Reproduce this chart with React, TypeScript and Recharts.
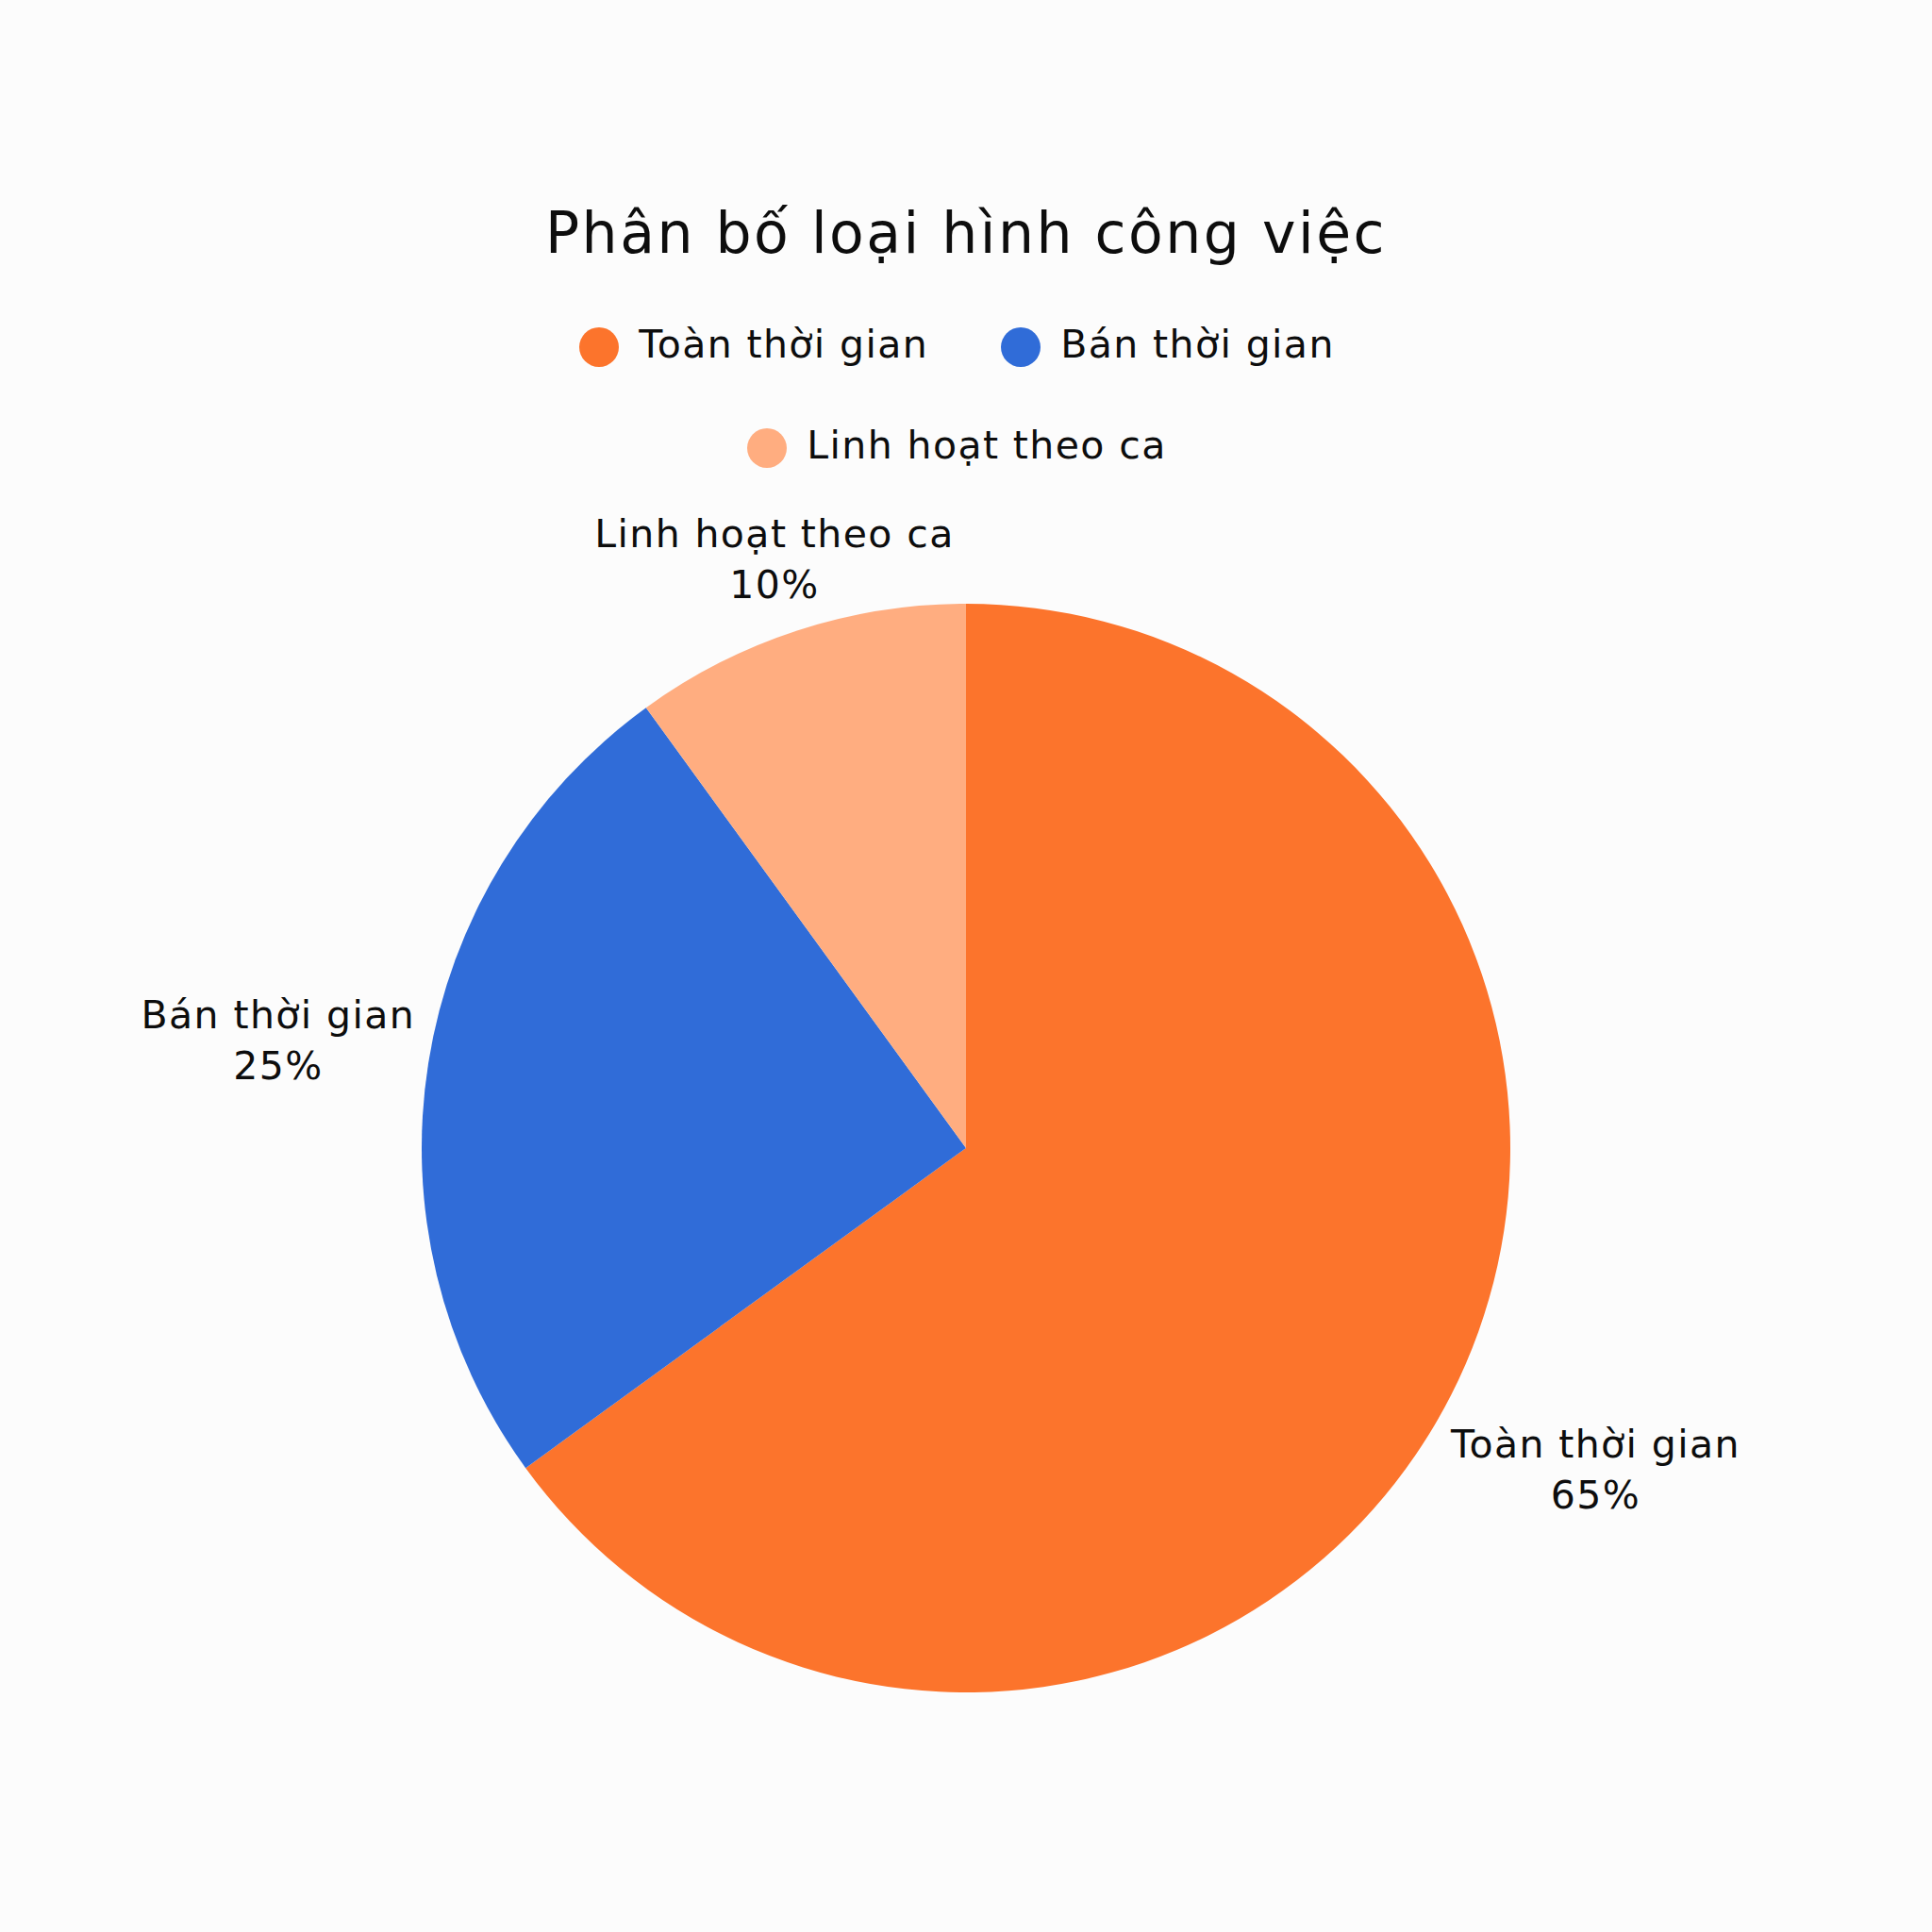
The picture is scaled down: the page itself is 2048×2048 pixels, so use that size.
import React from 'react';
import { PieChart, Pie, Cell, Legend } from 'recharts';

const TITLE = 'Phân bố loại hình công việc';
const categories = ['Toàn thời gian', 'Bán thời gian', 'Linh hoạt theo ca'];
const shares = [65, 25, 10];
const colors = ['#FC742C', '#306CD8', '#FFAD80'];

const data = categories.map((name, i) => ({ name, value: shares[i] }));

const FONT = '"DejaVu Sans", sans-serif';
const TEXT = '#0d0d0d';
const LABEL_SIZE = 41;
const LABEL_SPACING = 1.4;
const LEGEND_H = 520;
const RAD = Math.PI / 180;

const renderLegend = () => (
  <div style={{ position: 'relative', width: 2048, height: LEGEND_H, fontFamily: FONT, color: TEXT }}>
    <div
      style={{
        position: 'absolute',
        top: 217,
        left: 0,
        width: 2048,
        textAlign: 'center',
        fontSize: 60,
        lineHeight: '60px',
        letterSpacing: 2.5,
        whiteSpace: 'nowrap',
      }}
    >
      {TITLE}
    </div>
    <div
      style={{
        position: 'absolute',
        top: 347,
        left: 524,
        width: 1000,
        display: 'flex',
        flexWrap: 'wrap',
        justifyContent: 'center',
        columnGap: 58,
        rowGap: 65,
      }}
    >
      {data.map((d, i) => (
        <div key={d.name} style={{ display: 'flex', alignItems: 'center', height: 42, paddingRight: 19 }}>
          <span
            style={{
              display: 'inline-block',
              width: 42,
              height: 42,
              borderRadius: '50%',
              background: colors[i],
              marginRight: 21,
            }}
          />
          <span
            style={{
              fontSize: LABEL_SIZE,
              lineHeight: '42px',
              letterSpacing: LABEL_SPACING,
              whiteSpace: 'nowrap',
              position: 'relative',
              top: -3,
            }}
          >
            {d.name}
          </span>
        </div>
      ))}
    </div>
  </div>
);

const renderLabel = (props: any) => {
  const { cx, cy, midAngle, outerRadius, name, value } = props;
  const c = Math.cos(-midAngle * RAD);
  const s = Math.sin(-midAngle * RAD);
  const halfW = (String(name).length * 0.53 * LABEL_SIZE) / 2;
  const dist = outerRadius + 20 + (halfW * Math.abs(c)) / Math.max(Math.abs(c), Math.abs(s));
  const x = cx + dist * c;
  const y = cy + dist * s;
  return (
    <text
      x={x}
      y={y}
      textAnchor="middle"
      fill={TEXT}
      fontSize={LABEL_SIZE}
      fontFamily={FONT}
      style={{ letterSpacing: LABEL_SPACING }}
    >
      <tspan x={x} y={y - 12}>{name}</tspan>
      <tspan x={x} y={y + 42}>{`${value}%`}</tspan>
    </text>
  );
};

export default function App() {
  return (
    <div
      style={{
        position: 'absolute',
        top: 0,
        left: 0,
        width: 2048,
        height: 2048,
        background: '#FCFCFC',
        fontFamily: FONT,
      }}
    >
      <PieChart width={2048} height={2048} margin={{ top: 0, right: 0, bottom: 0, left: 0 }}>
        <Legend verticalAlign="top" align="center" content={renderLegend} />
        <Pie
          data={data}
          dataKey="value"
          nameKey="name"
          cx={1024}
          cy={1217 - LEGEND_H}
          outerRadius={577}
          startAngle={90}
          endAngle={-270}
          stroke="none"
          labelLine={false}
          label={renderLabel}
          isAnimationActive={false}
        >
          {data.map((d, i) => (
            <Cell key={d.name} fill={colors[i]} />
          ))}
        </Pie>
      </PieChart>
    </div>
  );
}
